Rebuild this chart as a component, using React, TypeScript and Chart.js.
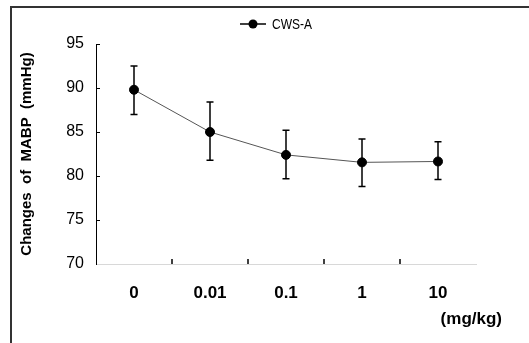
import React, { useEffect, useRef } from "react";
import { Chart, registerables } from "chart.js";

Chart.register(...registerables);

const doses = ["0", "0.01", "0.1", "1", "10"];
const meanMABP = [89.8, 85.0, 82.4, 81.55, 81.65];
const upperMABP = [92.5, 88.4, 85.2, 84.2, 83.9];
const lowerMABP = [87.0, 81.8, 79.7, 78.8, 79.6];
const seriesName = "CWS-A";
const yTitle = "Changes  of  MABP  (mmHg)";
const xUnit = "(mg/kg)";

const SANS = "'Liberation Sans', Arial, sans-serif";

const errorBars = {
  id: "errorBars",
  afterDatasetsDraw(chart: any) {
    const { ctx, scales } = chart;
    const x = scales.x;
    const y = scales.y;
    ctx.save();
    ctx.strokeStyle = "#000";
    ctx.lineWidth = 1.5;
    doses.forEach((_, i) => {
      const px = x.getPixelForValue(i);
      const yh = y.getPixelForValue(upperMABP[i]);
      const yl = y.getPixelForValue(lowerMABP[i]);
      ctx.beginPath();
      ctx.moveTo(px, yh);
      ctx.lineTo(px, yl);
      ctx.moveTo(px - 3.5, yh);
      ctx.lineTo(px + 3.5, yh);
      ctx.moveTo(px - 3.5, yl);
      ctx.lineTo(px + 3.5, yl);
      ctx.stroke();
    });
    ctx.restore();
  },
};

const decorations = {
  id: "decorations",
  afterDraw(chart: any) {
    const { ctx, scales, chartArea } = chart;
    const x = scales.x;
    const y = scales.y;
    ctx.save();
    // inward y ticks
    ctx.strokeStyle = "#000";
    ctx.lineWidth = 1;
    y.ticks.forEach((t: any) => {
      if (t.value === y.min) return;
      const py = Math.round(y.getPixelForValue(t.value)) + 0.5;
      ctx.beginPath();
      ctx.moveTo(chartArea.left, py);
      ctx.lineTo(chartArea.left + 4, py);
      ctx.stroke();
    });
    // inward x ticks between categories
    ctx.lineWidth = 1.5;
    for (let i = 1; i < doses.length; i++) {
      const px = (x.getPixelForValue(i - 1) + x.getPixelForValue(i)) / 2;
      ctx.beginPath();
      ctx.moveTo(px, chartArea.bottom);
      ctx.lineTo(px, chartArea.bottom - 5);
      ctx.stroke();
    }
    // x unit label
    ctx.fillStyle = "#000";
    ctx.font = `bold 17px ${SANS}`;
    ctx.textAlign = "right";
    ctx.textBaseline = "middle";
    ctx.fillText(xUnit, chartArea.right + 26, chartArea.bottom + 55);
    // legend
    const cx = (chartArea.left + chartArea.right) / 2 - 33;
    const ly = chartArea.top - 20;
    ctx.lineWidth = 1.5;
    ctx.beginPath();
    ctx.moveTo(cx - 13, ly);
    ctx.lineTo(cx + 13, ly);
    ctx.stroke();
    ctx.beginPath();
    ctx.arc(cx, ly, 4.5, 0, Math.PI * 2);
    ctx.fill();
    ctx.font = `15px ${SANS}`;
    ctx.textAlign = "left";
    ctx.translate(cx + 19, ly + 1);
    ctx.scale(0.8, 1);
    ctx.fillText(seriesName, 0, 0);
    ctx.restore();
  },
};

export default function App() {
  const ref = useRef<HTMLCanvasElement | null>(null);
  useEffect(() => {
    if (!ref.current) return;
    const chart = new Chart(ref.current, {
      type: "line",
      data: {
        labels: doses,
        datasets: [
          {
            label: seriesName,
            data: meanMABP,
            borderColor: "#555",
            borderWidth: 1,
            pointRadius: 4.5,
            pointBorderWidth: 1,
            pointBackgroundColor: "#000",
            pointBorderColor: "#000",
            tension: 0,
          },
        ],
      },
      options: {
        animation: false,
        responsive: false,
        devicePixelRatio: 1,
        layout: { padding: { top: 44, right: 53, bottom: 0, left: 0 } },
        plugins: {
          legend: { display: false },
          tooltip: { enabled: false },
        },
        scales: {
          x: {
            type: "category",
            offset: true,
            grid: { display: false, drawTicks: false },
            border: { display: true, color: "#d8d8d8", width: 1 },
            ticks: {
              color: "#000",
              padding: 19,
              font: { family: SANS, size: 17, weight: "bold" },
            },
            afterFit(scale: any) {
              scale.height = 79;
            },
          },
          y: {
            min: 70,
            max: 95,
            ticks: {
              stepSize: 5,
              color: "#000",
              padding: 12,
              font: { family: SANS, size: 16 },
            },
            grid: { display: false, drawTicks: false },
            border: { display: true, color: "#000", width: 1 },
            title: {
              display: true,
              text: yTitle,
              color: "#000",
              font: { family: SANS, size: 15, weight: "bold" },
              padding: { top: 18, bottom: 0 },
            },
            afterFit(scale: any) {
              scale.width = 96;
            },
          },
        },
      },
      plugins: [errorBars, decorations],
    });
    return () => chart.destroy();
  }, []);

  return (
    <div
      style={{
        position: "fixed",
        left: 0,
        top: 0,
        width: 529,
        height: 343,
        overflow: "hidden",
        background: "#fff",
      }}
    >
      <canvas ref={ref} width={529} height={343} style={{ display: "block" }} />
      <div
        style={{
          position: "absolute",
          left: 10,
          top: 6,
          width: 519,
          height: 337,
          borderLeft: "2px solid #333",
          borderTop: "2px solid #333",
          boxSizing: "border-box",
          pointerEvents: "none",
        }}
      />
    </div>
  );
}
